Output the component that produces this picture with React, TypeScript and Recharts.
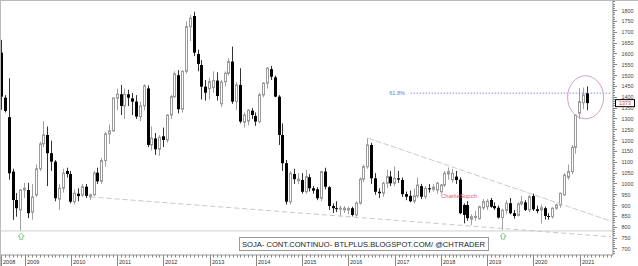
import { ComposedChart, Bar, XAxis, YAxis, ReferenceLine, ReferenceDot } from 'recharts'

// monthly candles, Jul 2008 .. Mar 2021 (cents/bushel)
const START_YEAR = 2008
const START_MONTH = 7
const PAD_MONTHS = 6 // empty room on the right of the last candle

const OPEN = [
  1606, 1398, 1308, 1057, 926, 880,
  972, 972, 870, 949, 1070, 1185, 1226, 1142, 1103, 930, 980, 1060,
  1046, 918, 955, 949, 987, 940, 950, 1052, 1012, 1108, 1231, 1245,
  1396, 1414, 1360, 1414, 1395, 1380, 1311, 1360, 1441, 1180, 1210, 1160,
  1220, 1203, 1318, 1403, 1502, 1345, 1520, 1726, 1775, 1600, 1549, 1449,
  1440, 1445, 1477, 1370, 1472, 1511, 1565, 1380, 1457, 1285, 1290, 1338,
  1314, 1288, 1411, 1465, 1530, 1492, 1403, 1226, 1096, 918, 1046, 1015,
  1018, 964, 1031, 980, 975, 934, 1057, 985, 898, 888, 883, 880,
  880, 888, 857, 911, 1022, 1080, 1180, 1026, 964, 957, 1003, 1034,
  1003, 1026, 1018, 953, 945, 920, 945, 990, 941, 980, 975, 972,
  964, 995, 1046, 1020, 1034, 1020, 903, 903, 837, 845, 840, 890,
  895, 926, 898, 890, 845, 878, 911, 865, 855, 908, 915, 880,
  944, 883, 880, 888, 852, 849, 888, 903, 950, 1030, 1057, 1169,
  1326, 1375, 1419,
]
const HIGH = [
  1665, 1410, 1488, 1070, 958, 975,
  1005, 1005, 1000, 1090, 1195, 1290, 1265, 1200, 1110, 1000, 1070, 1075,
  1060, 975, 980, 1000, 1000, 955, 1060, 1075, 1120, 1240, 1275, 1400,
  1440, 1457, 1440, 1435, 1420, 1410, 1380, 1460, 1455, 1265, 1235, 1225,
  1260, 1320, 1410, 1520, 1525, 1525, 1750, 1780, 1795, 1620, 1572, 1480,
  1490, 1520, 1515, 1480, 1520, 1580, 1634, 1470, 1534, 1330, 1345, 1350,
  1330, 1420, 1470, 1540, 1545, 1500, 1410, 1280, 1110, 1060, 1070, 1050,
  1050, 1065, 1045, 990, 985, 1060, 1075, 990, 910, 920, 900, 898,
  895, 895, 920, 1030, 1090, 1211, 1190, 1050, 980, 1010, 1065, 1060,
  1080, 1060, 1030, 965, 970, 980, 1030, 1000, 990, 1000, 1000, 1010,
  1000, 1060, 1076, 1070, 1060, 1030, 910, 920, 860, 875, 900, 930,
  930, 935, 915, 900, 885, 925, 935, 880, 915, 945, 925, 950,
  955, 900, 905, 895, 865, 892, 910, 960, 1050, 1090, 1180, 1320,
  1442, 1445, 1450,
]
const LOW = [
  1342, 1330, 1020, 834, 849, 783,
  935, 842, 835, 940, 1060, 1170, 990, 1060, 920, 880, 960, 1030,
  910, 905, 920, 940, 935, 925, 945, 1000, 1000, 1080, 1185, 1240,
  1340, 1318, 1300, 1360, 1318, 1300, 1290, 1340, 1170, 1155, 1134, 1130,
  1170, 1190, 1300, 1395, 1326, 1330, 1510, 1660, 1590, 1520, 1390, 1385,
  1390, 1420, 1385, 1355, 1450, 1500, 1370, 1342, 1280, 1260, 1270, 1300,
  1268, 1280, 1400, 1440, 1480, 1400, 1180, 1060, 905, 905, 1000, 1000,
  955, 955, 965, 955, 925, 920, 975, 880, 866, 870, 850, 865,
  860, 850, 850, 905, 1010, 1070, 1000, 950, 935, 940, 980, 990,
  990, 1005, 940, 925, 915, 910, 935, 930, 930, 960, 965, 955,
  955, 985, 1020, 1005, 1000, 860, 818, 830, 810, 830, 835, 880,
  880, 890, 880, 840, 787, 860, 860, 840, 850, 900, 875, 870,
  875, 865, 818, 835, 835, 840, 880, 890, 945, 1020, 1045, 1140,
  1300, 1345, 1340,
]
const CLOSE = [
  1403, 1337, 1049, 926, 888, 972,
  980, 865, 940, 1070, 1185, 1226, 1142, 1103, 934, 980, 1050, 1046,
  918, 957, 944, 987, 945, 950, 1050, 1012, 1108, 1231, 1245, 1396,
  1414, 1360, 1414, 1398, 1380, 1311, 1360, 1452, 1180, 1211, 1160, 1215,
  1203, 1318, 1403, 1508, 1345, 1519, 1726, 1765, 1606, 1554, 1449, 1421,
  1472, 1478, 1406, 1470, 1511, 1565, 1380, 1457, 1288, 1318, 1340, 1318,
  1288, 1411, 1465, 1534, 1495, 1403, 1226, 1096, 918, 1049, 1022, 1022,
  964, 1034, 980, 969, 934, 1057, 987, 898, 888, 885, 888, 888,
  887, 857, 911, 1022, 1080, 1180, 1026, 964, 957, 1003, 1034, 1003,
  1026, 1020, 953, 941, 920, 945, 995, 941, 980, 975, 985, 1003,
  995, 1049, 1057, 1049, 1018, 865, 857, 842, 849, 850, 895, 918,
  920, 895, 888, 845, 878, 911, 865, 852, 908, 918, 880, 941,
  883, 875, 890, 852, 848, 888, 903, 957, 1041, 1057, 1169, 1318,
  1380, 1411, 1373,
]

const Y_LABELS = [700, 750, 800, 850, 900, 950, 1000, 1050, 1100, 1150, 1200, 1250, 1300,
  1350, 1400, 1450, 1500, 1550, 1600, 1650, 1700, 1750, 1800]
const Y_DOMAIN = [672, 1849]
const LAST_PRICE = '1373'

// drawn studies
const SUPPORT = 783
const FIB_LEVEL = 1419
const FIB_FROM = '2017-05'
const LOWER_TREND = [{ m: '2010-06', v: 940 }, { m: '2021-09', v: 756 }]
const UPPER_TREND = [{ m: '2016-06', v: 1211 }, { m: '2021-09', v: 828 }]
const LOW_MARKS = [{ m: '2008-12', v: 758 }, { m: '2019-05', v: 759 }]
const CIRCLE = { m: '2021-02', v: 1400 }

const FONT = "Arial, 'Liberation Sans', sans-serif"

function monthKey(i: number) {
  const t = START_MONTH - 1 + i
  const y = START_YEAR + Math.floor(t / 12)
  const mo = (t % 12) + 1
  return `${y}-${String(mo).padStart(2, '0')}`
}

const data = Array.from({ length: OPEN.length + PAD_MONTHS }, (_, i) =>
  i < OPEN.length
    ? { m: monthKey(i), o: OPEN[i], h: HIGH[i], l: LOW[i], c: CLOSE[i], range: [LOW[i], HIGH[i]] }
    : { m: monthKey(i) }
)

const yTicks: number[] = []
for (let v = 680; v <= 1840; v += 10) yTicks.push(v)

function Candle(props: any) {
  const { x, y, width, height, payload } = props
  if (!payload || payload.o == null) return null
  const { o, h, l, c } = payload
  const top = Math.min(y, y + height)
  const bot = Math.max(y, y + height)
  const py = (v: number) => (h === l ? top : top + ((h - v) / (h - l)) * (bot - top))
  const cx = Math.floor(x + width / 2) + 0.5
  if (c < o) {
    return (
      <g>
        <line x1={cx} x2={cx} y1={py(h)} y2={py(l)} stroke="#333" />
        <rect x={cx - 1.5} width={3} y={py(o)} height={Math.max(1, py(c) - py(o))} fill="#000" />
      </g>
    )
  }
  return (
    <g>
      <line x1={cx} x2={cx} y1={py(h)} y2={py(l)} stroke="#a0a0a0" />
      <rect x={cx - 1} width={2} y={py(c)} height={Math.max(1, py(o) - py(c))} fill="#fff" stroke="#999" />
    </g>
  )
}

function MonthTick({ x, y, payload, index }: any) {
  const isYear = String(payload.value).endsWith('-01') || index === 0
  const px = Math.floor(x) + 0.5
  return (
    <g>
      <line x1={px} x2={px} y1={y} y2={y + (isYear ? 11 : 2.5)} stroke="#888" />
      {isYear && (
        <text x={px + 1.5} y={y + 8.5} fontSize={5.6} fill="#333" fontFamily={FONT}>
          {String(payload.value).slice(0, 4)}
        </text>
      )}
    </g>
  )
}

function PriceTick({ x, y, payload }: any) {
  const v = payload.value
  const major = Y_LABELS.includes(v)
  const py = Math.floor(y) + 0.5
  return (
    <g>
      <line x1={x} x2={x + (major ? 4 : 2)} y1={py} y2={py} stroke="#888" />
      {major && (
        <text x={x + 8.5} y={y + 2} fontSize={5.4} fill="#444" fontFamily={FONT}>
          {v}
        </text>
      )}
    </g>
  )
}

function UpArrow({ cx, cy }: any) {
  const d = `M${cx},${cy - 3} L${cx + 3},${cy} L${cx + 1.5},${cy} L${cx + 1.5},${cy + 3} L${cx - 1.5},${cy + 3} L${cx - 1.5},${cy} L${cx - 3},${cy} Z`
  return <path d={d} fill="#fff" stroke="#6cbf6c" strokeWidth={0.8} />
}

export default function App() {
  const last = data[OPEN.length - 1].m
  return (
    <div style={{ position: 'fixed', left: 0, top: 0, width: 638, height: 266, background: '#fff' }}>
      <ComposedChart width={638} height={266} data={data} margin={{ top: 0, right: 0, bottom: 0, left: 0 }}>
        <XAxis
          dataKey="m"
          interval={0}
          height={11}
          tickSize={0}
          tickMargin={0}
          tickLine={false}
          axisLine={{ stroke: '#999' }}
          tick={<MonthTick />}
        />
        <YAxis
          orientation="right"
          width={25}
          domain={Y_DOMAIN}
          allowDataOverflow
          ticks={yTicks}
          interval={0}
          tickSize={0}
          tickMargin={0}
          tickLine={false}
          axisLine={{ stroke: '#888' }}
          tick={<PriceTick />}
        />
        <ReferenceLine y={SUPPORT} stroke="#cfcfcf" />
        <ReferenceLine
          segment={[{ x: LOWER_TREND[0].m, y: LOWER_TREND[0].v }, { x: LOWER_TREND[1].m, y: LOWER_TREND[1].v }]}
          stroke="#c8c8c8"
          strokeDasharray="5 3"
          ifOverflow="visible"
        />
        <ReferenceLine
          segment={[{ x: UPPER_TREND[0].m, y: UPPER_TREND[0].v }, { x: UPPER_TREND[1].m, y: UPPER_TREND[1].v }]}
          stroke="#cccccc"
          strokeDasharray="6 2"
          ifOverflow="visible"
        />
        <ReferenceLine
          segment={[{ x: FIB_FROM, y: FIB_LEVEL }, { x: data[data.length - 1].m, y: FIB_LEVEL }]}
          stroke="#8c8ce8"
          strokeDasharray="1.5 1.5"
          ifOverflow="visible"
        />
        <Bar dataKey="range" barSize={3} shape={<Candle />} isAnimationActive={false} />
        <ReferenceDot
          x={FIB_FROM}
          y={FIB_LEVEL}
          ifOverflow="visible"
          shape={(p: any) => (
            <text x={p.cx - 5.5} y={p.cy + 2} textAnchor="end" fontSize={5.6} fill="#5d7fd8" fontFamily={FONT}>
              61.8%
            </text>
          )}
        />
        <ReferenceDot
          x={CIRCLE.m}
          y={CIRCLE.v}
          ifOverflow="visible"
          shape={(p: any) => <ellipse cx={p.cx + 1.5} cy={p.cy} rx={18} ry={21.5} fill="none" stroke="#c9a3cc" />}
        />
        {LOW_MARKS.map((a) => (
          <ReferenceDot key={a.m} x={a.m} y={a.v} ifOverflow="visible" shape={<UpArrow />} />
        ))}
        <ReferenceDot
          x={last}
          y={Number(LAST_PRICE)}
          ifOverflow="visible"
          shape={(p: any) => (
            <g>
              <rect x={615.5} y={p.cy - 3.5} width={19} height={7} fill="#fff" stroke="#000" />
              <text x={625} y={p.cy + 2} textAnchor="middle" fontSize={5.4} fill="#d04a4a" fontFamily={FONT}>
                {LAST_PRICE}
              </text>
            </g>
          )}
        />
      </ComposedChart>
      <svg width={638} height={266} style={{ position: 'absolute', left: 0, top: 0, pointerEvents: 'none' }}>
        <line x1={0} x2={638} y1={0.5} y2={0.5} stroke="#bbb" />
        <line x1={0.5} x2={0.5} y1={0} y2={266} stroke="#bbb" />
        <text x={441} y={198} fontSize={6} fill="#e06464" fontFamily={FONT} textLength={36} lengthAdjust="spacingAndGlyphs">
          CharlieSupch
        </text>
        <rect x={239.5} y={237.5} width={249} height={13} fill="#fff" stroke="#999" />
        <text x={242} y={247.3} fontSize={8} fill="#222" fontFamily={FONT} textLength={243} lengthAdjust="spacingAndGlyphs">
          SOJA- CONT.CONTINUO- BTLPLUS.BLOGSPOT.COM/ @CHTRADER
        </text>
      </svg>
    </div>
  )
}
